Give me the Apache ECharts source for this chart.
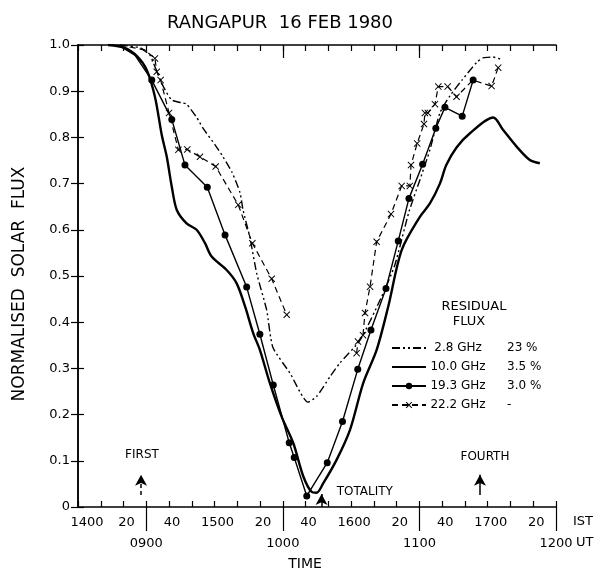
<!DOCTYPE html>
<html><head><meta charset="utf-8">
<script src="https://cdn.jsdelivr.net/npm/echarts@6/dist/echarts.min.js"></script>
<style>html,body{margin:0;padding:0;background:#fff}#c{width:610px;height:583px}</style>
</head><body><div id="c"></div>
<script>
// x values: minutes after 1400 IST
const istTickLabels = {0:'1400',20:'20',40:'40',60:'1500',80:'20',100:'40',120:'1600',140:'20',160:'40',180:'1700',200:'20'};
const utTickValues = [30, 90, 150, 210];
const utTickLabels = ['0900', '1000', '1100', '1200'];
const seriesNames = ['2.8 GHz', '10.0 GHz', '19.3 GHz', '22.2 GHz'];
const residualFlux = ['23 %', '3.5 %', '3.0 %', '-'];

const flux_2_8 = [[18.4,1.0],[27.2,0.994],[31.6,0.978],[33.8,0.953],[37.5,0.910],[41.2,0.881],[45.5,0.875],[47.7,0.872],
  [52.3,0.842],[54.9,0.820],[60.2,0.784],[63.7,0.758],[67.6,0.725],[71.2,0.680],[72.5,0.643],[75.5,0.584],[78.5,0.506],
  [82.9,0.426],[85.6,0.346],[93.1,0.290],[101.0,0.227],[104.8,0.239],[110.7,0.282],[115.1,0.312],[123.9,0.361],
  [133.1,0.452],[139.2,0.524],[145.4,0.639],[150.2,0.708],[154.6,0.773],[159.0,0.853],[163.4,0.890],[168.7,0.924],
  [175.3,0.963],[177.9,0.972],[182.3,0.974],[186.2,0.968]];

const flux_10_0 = [[13.2,1.0],[20.6,0.994],[25.9,0.976],[30.2,0.946],[33.8,0.888],[36.8,0.805],[39.0,0.758],[41.2,0.693],
  [43.4,0.643],[47.7,0.614],[52.1,0.600],[55.8,0.571],[58.7,0.542],[65.3,0.513],[69.7,0.484],[73.4,0.434],[77.0,0.376],
  [79.9,0.340],[84.3,0.268],[89.5,0.195],[94.6,0.138],[99.0,0.066],[102.6,0.033],[104.8,0.031],[107.7,0.051],
  [113.6,0.102],[119.5,0.167],[125.3,0.268],[131.2,0.340],[136.3,0.434],[142.2,0.556],[150.2,0.628],[154.6,0.657],
  [159.0,0.700],[161.8,0.740],[166.3,0.778],[172.2,0.809],[182.4,0.843],[186.8,0.816],[192.7,0.780],[198.5,0.751],[202.9,0.744]];

const flux_19_3 = [[17.6,1.0],[25.0,0.978],[32.4,0.924],[41.2,0.839],[47.0,0.740],[56.8,0.692],[64.6,0.589],[74.1,0.476],
  [79.9,0.374],[85.8,0.264],[92.8,0.139],[95.0,0.107],[100.5,0.024],[109.5,0.096],[116.2,0.185],[122.9,0.298],
  [128.7,0.383],[135.3,0.473],[140.7,0.576],[145.4,0.668],[151.4,0.742],[157.2,0.820],[161.2,0.865],[168.8,0.846],[173.6,0.924]];

const flux_22_2 = [[18.4,1.0],[29.4,0.989],[33.8,0.971],[34.6,0.942],[36.3,0.924],[40.0,0.853],[44.1,0.773],[48.0,0.774],
  [53.6,0.758],[60.5,0.737],[70.4,0.654],[76.6,0.571],[85.1,0.494],[91.7,0.416],[105,'-'],
  [122.4,0.333],[123.0,0.358],[125.2,0.372],[126.1,0.420],[128.3,0.477],[131.2,0.574],[137.5,0.634],[142.2,0.695],
  [145.8,0.695],[146.3,0.740],[149.0,0.787],[152.0,0.829],[152.4,0.853],[153.7,0.853],[156.8,0.872],[158.3,0.910],
  [162.4,0.910],[166.3,0.888],[173.5,0.924],[181.7,0.911],[184.6,0.951]];

// indices of curve vertices that carry no plotted marker
const unmarked_19_3 = [0, 1];
const unmarked_22_2 = [0, 1, 33];

// contact annotations: [time, label]
const contacts = [[27.7,'FIRST'],[107,'TOTALITY'],[176.6,'FOURTH']];

const FONT = 'DejaVu Sans';
const xMark = 'path://M0,1L1,0L5,4L9,0L10,1L6,5L10,9L9,10L5,6L1,10L0,9L4,5Z';
const chart = echarts.init(document.getElementById('c'));
const grid = {left:78, top:45, width:478, height:462};
const axisLine = {show:true, lineStyle:{color:'#000', width:1.5}};
const hideSym = {opacity:0};
const withMarkers = (arr, unmarked) => arr.map((p,i)=> unmarked.indexOf(i)>=0 ? {value:p, symbol:'none'} : p);

chart.setOption({
  animation:false,
  backgroundColor:'#fff',
  textStyle:{fontFamily:FONT, color:'#000'},
  title:{text:'RANGAPUR  16 FEB 1980', left:275, textAlign:'center', top:9,
    textStyle:{fontFamily:FONT, fontSize:18, fontWeight:'normal', color:'#000'}},
  grid: grid,
  xAxis:[
    {type:'value', min:0, max:210, interval:10, position:'bottom', axisLine:axisLine,
     splitLine:{show:false},
     axisTick:{inside:true, length:6, lineStyle:{color:'#000', width:1.2}},
     axisLabel:{margin:9, fontSize:13, color:'#000', fontFamily:FONT,
       formatter:v=> v===0 ? '{f|1400}' : (istTickLabels[v]!==undefined ? '{a|'+istTickLabels[v]+'}' : ''),
       rich:{f:{padding:[0,0,0,18], fontSize:13}, a:{padding:[0,0,0,6], fontSize:13}}},
     name:'TIME', nameLocation:'middle', nameGap:50,
     nameTextStyle:{fontSize:14, color:'#000', padding:[0,24,0,0]}},
    {type:'value', min:0, max:210, position:'bottom', axisLine:{show:false}, splitLine:{show:false},
     axisTick:{show:true, inside:false, length:24, customValues:utTickValues, lineStyle:{color:'#000', width:1.2}},
     axisLabel:{margin:30, fontSize:13, color:'#000', customValues:utTickValues,
       formatter:v=>{const i=utTickValues.indexOf(v); return i>=0?utTickLabels[i]:'';}}},
    {type:'value', min:0, max:210, interval:10, position:'top', axisLine:axisLine, splitLine:{show:false},
     axisTick:{inside:true, length:6, lineStyle:{color:'#000', width:1.2}}, axisLabel:{show:false}},
    {type:'value', min:0, max:210, position:'top', axisLine:{show:false}, splitLine:{show:false},
     axisTick:{show:true, inside:true, length:13, customValues:[90,150], lineStyle:{color:'#000', width:1.2}},
     axisLabel:{show:false}}
  ],
  yAxis:[
    {type:'value', min:0, max:1, interval:0.1, position:'left', axisLine:axisLine, splitLine:{show:false},
     axisTick:{show:true, inside:true, length:6, lineStyle:{color:'#000', width:1.2}},
     axisLabel:{margin:8, fontSize:13, color:'#000', formatter:v=> v===0?'0':v.toFixed(1)},
     name:'NORMALISED  SOLAR  FLUX', nameLocation:'middle', nameGap:50, nameRotate:90,
     nameTextStyle:{fontSize:17, color:'#000', padding:[0,16,0,0]}},
    {type:'value', min:0, max:1, interval:0.1, position:'right', axisLine:axisLine, splitLine:{show:false},
     axisTick:{show:true, inside:true, length:7, lineStyle:{color:'#000', width:1.2}}, axisLabel:{show:false}}
  ],
  legend:{orient:'vertical', left:386, top:337, itemWidth:34, itemHeight:8, itemGap:7, selectedMode:false,
    data:[
      {name:seriesNames[0], itemStyle:hideSym},
      {name:seriesNames[1], itemStyle:hideSym},
      {name:seriesNames[2]},
      {name:seriesNames[3]}
    ],
    formatter:name=>'{n|'+name+'}{p|'+residualFlux[seriesNames.indexOf(name)]+'}',
    textStyle:{fontSize:12, color:'#000', fontFamily:FONT,
      rich:{n:{width:54, align:'right', fontSize:12, fontFamily:FONT}, p:{padding:[0,0,0,22], fontSize:12, fontFamily:FONT}}}},
  graphic:[
    {type:'text', x:474, y:307, style:{text:'RESIDUAL', fontSize:13, fontFamily:FONT, fill:'#000', align:'center', verticalAlign:'middle'}},
    {type:'text', x:469, y:322, style:{text:'FLUX', fontSize:13, fontFamily:FONT, fill:'#000', align:'center', verticalAlign:'middle'}},
    {type:'text', x:573, y:522, style:{text:'IST', fontSize:13, fontFamily:FONT, fill:'#000', verticalAlign:'middle'}},
    {type:'text', x:576, y:543, style:{text:'UT', fontSize:13, fontFamily:FONT, fill:'#000', verticalAlign:'middle'}}
  ],
  series:[
    {name:seriesNames[0], type:'line', data:flux_2_8, symbol:'none', smooth:0.2,
     lineStyle:{color:'#000', width:1.4, type:[8,3,2,3,2,3]}, itemStyle:{color:'#000'}},
    {name:seriesNames[1], type:'line', data:flux_10_0, symbol:'none', smooth:0.3,
     lineStyle:{color:'#000', width:2.4}, itemStyle:{color:'#000'},
     markLine:{silent:true, animation:false, symbol:['none','arrow'], symbolSize:[9,11],
       lineStyle:{color:'#000', width:1.5, type:'solid'}, label:{show:false},
       data:[
         [{coord:[contacts[0][0],0.026], lineStyle:{type:[4,3]}},{coord:[contacts[0][0],0.07]}],
         [{coord:[contacts[1][0],0.0]},{coord:[contacts[1][0],0.028]}],
         [{coord:[contacts[2][0],0.026]},{coord:[contacts[2][0],0.07]}]
       ]},
     markPoint:{silent:true, animation:false, symbol:'circle', symbolSize:1, itemStyle:{color:'rgba(0,0,0,0)'},
       label:{show:true, position:'inside', color:'#000', fontSize:12, fontFamily:FONT, formatter:p=>p.name},
       data:[
         {name:contacts[0][1], coord:[contacts[0][0]+0.4,0.113]},
         {name:contacts[1][1], coord:[contacts[1][0]+19,0.033]},
         {name:contacts[2][1], coord:[contacts[2][0]+2.2,0.108]}
       ]}},
    {name:seriesNames[2], type:'line', data:withMarkers(flux_19_3, unmarked_19_3), symbol:'circle', symbolSize:7,
     lineStyle:{color:'#000', width:1.4}, itemStyle:{color:'#000'}},
    {name:seriesNames[3], type:'line', data:withMarkers(flux_22_2, unmarked_22_2), symbol:xMark, symbolSize:7, connectNulls:false,
     lineStyle:{color:'#000', width:1.2, type:[6,4]}, itemStyle:{color:'#000'}}
  ]
});
</script></body></html>
